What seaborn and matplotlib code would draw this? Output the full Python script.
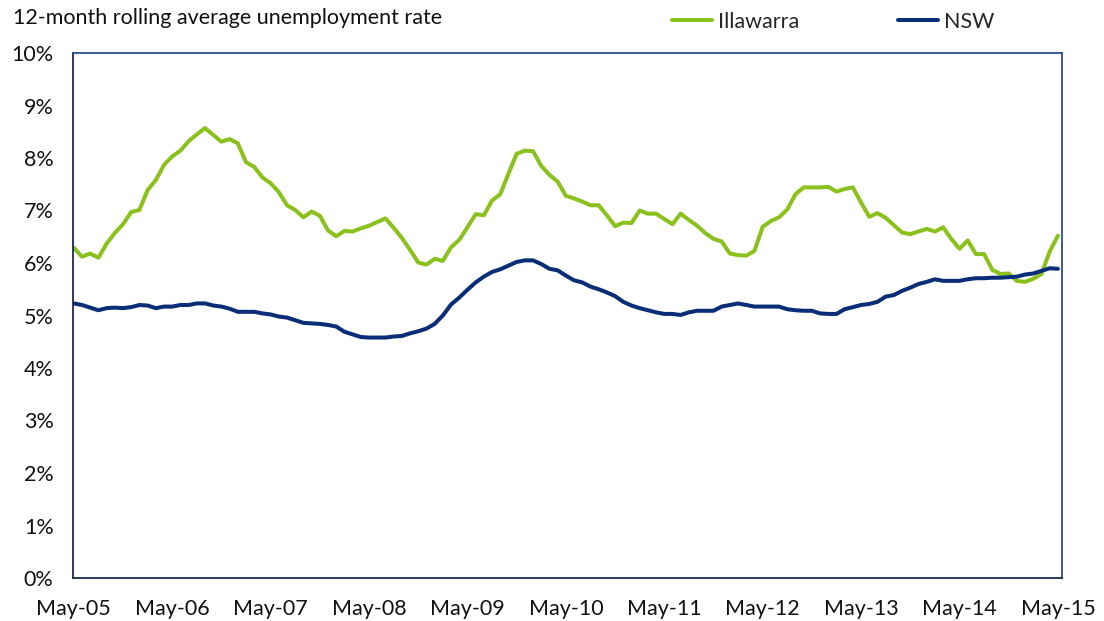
import numpy as np
import pandas as pd
import matplotlib
matplotlib.use("Agg")
import matplotlib.pyplot as plt
import seaborn as sns

# Monthly 12-month rolling average unemployment rate (%), May-05 to May-15
illawarra = [
    6.29, 6.12, 6.18, 6.10, 6.37, 6.57, 6.74, 6.97, 7.01, 7.39,
    7.58, 7.87, 8.03, 8.14, 8.32, 8.45, 8.57, 8.44, 8.31, 8.36,
    8.28, 7.92, 7.83, 7.63, 7.52, 7.35, 7.10, 7.01, 6.87, 6.98,
    6.90, 6.62, 6.51, 6.61, 6.60, 6.66, 6.71, 6.78, 6.85, 6.67,
    6.48, 6.25, 6.01, 5.97, 6.08, 6.04, 6.30, 6.44, 6.68, 6.93,
    6.91, 7.19, 7.31, 7.70, 8.08, 8.14, 8.13, 7.85, 7.68, 7.55,
    7.28, 7.23, 7.17, 7.10, 7.10, 6.91, 6.70, 6.77, 6.76, 7.00,
    6.94, 6.94, 6.84, 6.74, 6.94, 6.82, 6.71, 6.57, 6.46, 6.41,
    6.18, 6.15, 6.14, 6.23, 6.69, 6.80, 6.87, 7.02, 7.31, 7.44,
    7.44, 7.44, 7.45, 7.36, 7.41, 7.44, 7.15, 6.88, 6.95, 6.86,
    6.72, 6.58, 6.55, 6.60, 6.65, 6.60, 6.68, 6.46, 6.27, 6.43,
    6.17, 6.17, 5.87, 5.79, 5.80, 5.66, 5.64, 5.70, 5.79, 6.22,
    6.52,
]
nsw = [
    5.23, 5.20, 5.15, 5.10, 5.14, 5.15, 5.14, 5.16, 5.20, 5.19,
    5.14, 5.17, 5.17, 5.20, 5.20, 5.23, 5.23, 5.19, 5.17, 5.13,
    5.07, 5.07, 5.07, 5.04, 5.02, 4.98, 4.96, 4.91, 4.86, 4.85,
    4.84, 4.82, 4.79, 4.69, 4.64, 4.59, 4.58, 4.58, 4.58, 4.60,
    4.61, 4.66, 4.70, 4.75, 4.84, 5.00, 5.21, 5.34, 5.49, 5.63,
    5.74, 5.83, 5.88, 5.95, 6.02, 6.05, 6.05, 5.98, 5.89, 5.86,
    5.76, 5.67, 5.63, 5.55, 5.50, 5.44, 5.37, 5.26, 5.19, 5.14,
    5.10, 5.06, 5.03, 5.03, 5.01, 5.06, 5.09, 5.09, 5.09, 5.17,
    5.20, 5.23, 5.20, 5.17, 5.17, 5.17, 5.17, 5.12, 5.10, 5.09,
    5.09, 5.04, 5.03, 5.03, 5.12, 5.16, 5.20, 5.22, 5.26, 5.36,
    5.39, 5.47, 5.53, 5.60, 5.64, 5.69, 5.66, 5.66, 5.66, 5.69,
    5.71, 5.71, 5.72, 5.72, 5.73, 5.74, 5.78, 5.80, 5.85, 5.90,
    5.89,
]
year_labels = ["May-05", "May-06", "May-07", "May-08", "May-09", "May-10",
               "May-11", "May-12", "May-13", "May-14", "May-15"]
y_ticks = [0, 1, 2, 3, 4, 5, 6, 7, 8, 9, 10]
series_names = ["Illawarra", "NSW"]

months = np.arange(len(illawarra))
df = pd.DataFrame({
    "month": np.concatenate([months, months]),
    "rate": np.array(illawarra + nsw) / 100.0,
    "series": [series_names[0]] * len(illawarra) + [series_names[1]] * len(nsw),
})

sns.set_theme(style="white")
plt.rcParams["font.family"] = ["Lato", "DejaVu Sans"]

GREEN = "#8BC11C"
NAVY = "#0A2D77"
FS = 15.5

fig = plt.figure(figsize=(11.04, 6.21), dpi=100)
ax = fig.add_axes([73 / 1104, 1 - 578 / 621, (1062 - 73) / 1104, (578 - 53) / 621])

sns.lineplot(data=df, x="month", y="rate", hue="series",
             palette={"Illawarra": GREEN, "NSW": NAVY},
             linewidth=2.9, ax=ax, legend=False)

ax.set_xlim(-0.1, 120.5)
ax.set_ylim(0, 0.10)
ax.set_xticks(np.arange(0, 121, 12))
ax.set_xticklabels(year_labels)
ax.set_yticks([v / 100 for v in y_ticks])
ax.set_yticklabels([f"{v}%" for v in y_ticks])
ax.set_xlabel("")
ax.set_ylabel("")

for side in ("left", "bottom"):
    ax.spines[side].set_color("#1C2B4F")
    ax.spines[side].set_linewidth(1.3)
for side in ("top", "right"):
    ax.spines[side].set_color("#2D4C98")
    ax.spines[side].set_linewidth(1.3)

ax.tick_params(axis="both", which="major", direction="out", length=5,
               width=1.2, color="#808080", labelsize=FS, labelcolor="#111111")
ax.tick_params(axis="x", pad=10)
ax.tick_params(axis="y", pad=9)
ax.grid(False)

fig.text(13 / 1104, 1 - 18 / 621, "12-month rolling average unemployment rate",
         fontsize=FS, color="#111111", ha="left", va="center")

handles = [plt.Line2D([], [], color=GREEN, linewidth=2.9),
           plt.Line2D([], [], color=NAVY, linewidth=2.9)]
fig.legend(handles, series_names, loc="center left",
           bbox_to_anchor=(672 / 1104, 1 - 22 / 621), ncol=2, frameon=False,
           fontsize=FS, handlelength=1.85, handletextpad=0.28,
           columnspacing=4.6, borderaxespad=0, borderpad=0)

fig.savefig("out.png", dpi=100)
